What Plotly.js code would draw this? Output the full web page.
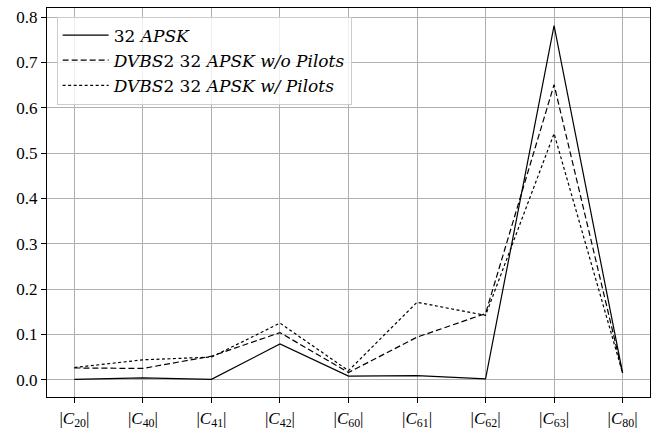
<!DOCTYPE html>
<html>
<head>
<meta charset="utf-8">
<script src="https://cdn.plot.ly/plotly-3.0.1.min.js"></script>
<style>html,body{margin:0;padding:0;background:#fff;}#chart{width:657px;height:430px;}</style>
</head>
<body>
<div id="chart"></div>
<script>
const categories = ["|<i>C</i><sub>20</sub>|", "|<i>C</i><sub>40</sub>|", "|<i>C</i><sub>41</sub>|", "|<i>C</i><sub>42</sub>|", "|<i>C</i><sub>60</sub>|", "|<i>C</i><sub>61</sub>|", "|<i>C</i><sub>62</sub>|", "|<i>C</i><sub>63</sub>|", "|<i>C</i><sub>80</sub>|"];
const apsk32 = [0.001, 0.004, 0.001, 0.079, 0.008, 0.009, 0.002, 0.781, 0.015];
const dvbsNoPilots = [0.026, 0.025, 0.052, 0.104, 0.016, 0.094, 0.146, 0.651, 0.015];
const dvbsPilots = [0.027, 0.044, 0.050, 0.125, 0.020, 0.171, 0.142, 0.543, 0.015];
const seriesNames = ["32 <i>APSK</i>", "<i>DVBS</i>2 32 <i>APSK w/o Pilots</i>", "<i>DVBS</i>2 32 <i>APSK w/ Pilots</i>"];
const yTicks = [0.0, 0.1, 0.2, 0.3, 0.4, 0.5, 0.6, 0.7, 0.8];

const xIdx = categories.map((_, i) => i);
const serif = "Liberation Serif, DejaVu Serif, serif";

const traces = [
  {x: xIdx, y: apsk32, name: seriesNames[0], mode: "lines", line: {color: "#000", width: 1.2, dash: "solid"}},
  {x: xIdx, y: dvbsNoPilots, name: seriesNames[1], mode: "lines", line: {color: "#000", width: 1.2, dash: "6px,3px"}},
  {x: xIdx, y: dvbsPilots, name: seriesNames[2], mode: "lines", line: {color: "#000", width: 1.2, dash: "3px,2.5px"}}
];

const layout = {
  width: 657, height: 430,
  margin: {l: 47, r: 7, t: 8, b: 33},
  paper_bgcolor: "#fff", plot_bgcolor: "#fff",
  font: {family: serif, size: 16, color: "#000"},
  showlegend: true,
  legend: {x: 0.016, y: 0.978, xanchor: "left", yanchor: "top", bgcolor: "rgba(255,255,255,0.8)", bordercolor: "#cccccc", borderwidth: 1,
           font: {family: "DejaVu Serif, serif", size: 17, color: "#000"}, itemwidth: 46, tracegroupgap: 0},
  xaxis: {
    range: [-0.4, 8.4], tickmode: "array", tickvals: xIdx, ticktext: categories,
    showgrid: true, gridcolor: "#b0b0b0", gridwidth: 1,
    showline: true, linecolor: "#000", linewidth: 1.2, mirror: true,
    ticks: "outside", ticklen: 5, tickcolor: "#000", tickwidth: 1,
    zeroline: false, tickfont: {family: serif, size: 17, color: "#000"}
  },
  yaxis: {
    range: [-0.038, 0.82], tickmode: "array", tickvals: yTicks, ticktext: yTicks.map(v => v.toFixed(1)),
    showgrid: true, gridcolor: "#b0b0b0", gridwidth: 1,
    showline: true, linecolor: "#000", linewidth: 1.2, mirror: true,
    ticks: "outside", ticklen: 5, tickcolor: "#000", tickwidth: 1,
    zeroline: false, tickfont: {family: serif, size: 17, color: "#000"}
  }
};

Plotly.newPlot("chart", traces, layout, {displayModeBar: false, staticPlot: true});
</script>
</body>
</html>
